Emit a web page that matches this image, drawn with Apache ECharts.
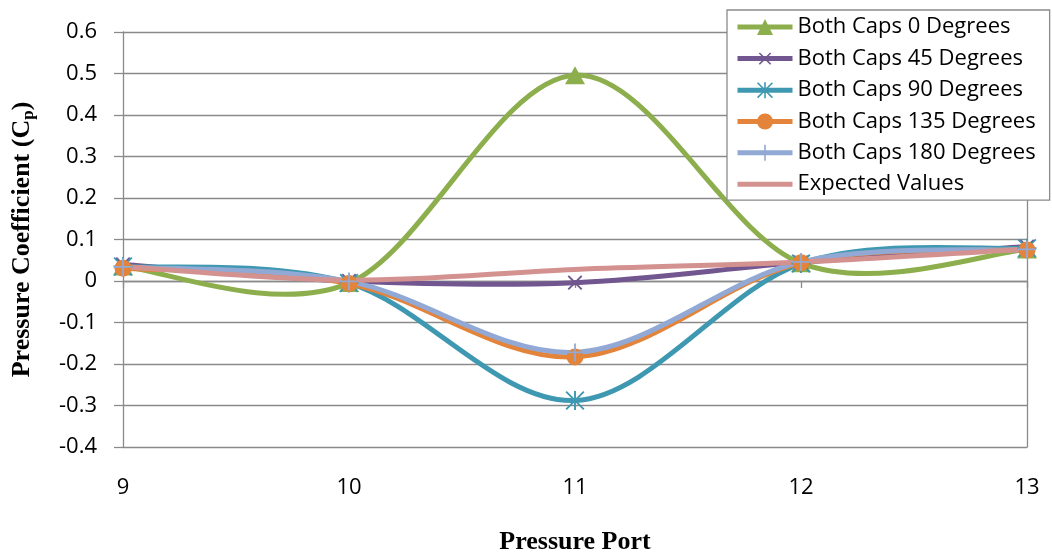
<!DOCTYPE html>
<html>
<head>
<meta charset="utf-8">
<script src="https://cdn.jsdelivr.net/npm/echarts@6/dist/echarts.min.js"></script>
<style>
  html, body { margin: 0; padding: 0; background: #fff; }
  #chart { width: 1052px; height: 553px; }
</style>
</head>
<body>
<div id="chart"></div>
<script>
// ---- data ----
const ports = [9, 10, 11, 12, 13];
const xTicks = [9, 10, 11, 12, 13];
const yTicks = [-0.4, -0.3, -0.2, -0.1, 0, 0.1, 0.2, 0.3, 0.4, 0.5, 0.6];
const seriesNames = ['Both Caps 0 Degrees', 'Both Caps 45 Degrees', 'Both Caps 90 Degrees',
                     'Both Caps 135 Degrees', 'Both Caps 180 Degrees', 'Expected Values'];
const caps0   = [0.035, -0.005, 0.496, 0.043, 0.076];
const caps45  = [0.040, 0.000, -0.004, 0.045, 0.083];
const caps90  = [0.035, -0.005, -0.288, 0.042, 0.079];
const caps135 = [0.031, -0.006, -0.183, 0.044, 0.075];
const caps180 = [0.034, -0.001, -0.172, 0.046, 0.076];
const expected = [0.035, 0.002, 0.028, 0.046, 0.077];

// ---- styling ----
const colors = ['#8DAE4C', '#71568F', '#3E98B1', '#E3843A', '#91A9D4', '#D39290'];
const gridColor = '#8a8a8a';
const tickFont = 'Open Sans';
const titleFont = 'Liberation Serif';
const tension = 1 / 6;

const plusPath = 'path://M9,0H11V9H20V11H11V20H9V11H0V9H9Z';
const starPath = 'path://M9,0H11V9H20V11H11V20H9V11H0V9H9Z' +
  'M1.4,0L20,18.6L18.6,20L0,1.4Z' +
  'M18.6,0L20,1.4L1.4,20L0,18.6Z';

const seriesData = [caps0, caps45, caps90, caps135, caps180, expected];
const symbols = ['triangle', plusPath, starPath, 'circle', plusPath, 'none'];
const symbolSizes = [[20, 18], 19, 19, 17, 18, 0];
const symbolRotates = [0, 45, 0, 0, 0, 0];

// Smooth curve (Catmull-Rom style Bezier, like the spreadsheet's smoothed line)
function curveRenderer(vals, color) {
  return function (params, api) {
    if (params.dataIndex !== 0) return null;
    const pts = ports.map((p, k) => api.coord([p, vals[k]]));
    const n = pts.length;
    const children = [];
    for (let i = 0; i < n - 1; i++) {
      const p0 = pts[Math.max(i - 1, 0)], p1 = pts[i], p2 = pts[i + 1], p3 = pts[Math.min(i + 2, n - 1)];
      children.push({
        type: 'bezierCurve',
        shape: {
          x1: p1[0], y1: p1[1], x2: p2[0], y2: p2[1],
          cpx1: p1[0] + (p2[0] - p0[0]) * tension, cpy1: p1[1] + (p2[1] - p0[1]) * tension,
          cpx2: p2[0] - (p3[0] - p1[0]) * tension, cpy2: p2[1] - (p3[1] - p1[1]) * tension
        },
        style: { stroke: color, lineWidth: 5, fill: 'none', lineCap: 'round' },
        silent: true
      });
    }
    return { type: 'group', children: children };
  };
}

const series = [];
seriesData.forEach((vals, i) => {
  series.push({
    name: '_curve' + i,
    type: 'custom',
    coordinateSystem: 'cartesian2d',
    xAxisIndex: 0, yAxisIndex: 0,
    data: ports.map((p, k) => [p, vals[k]]),
    renderItem: curveRenderer(vals, colors[i]),
    silent: true,
    animation: false
  });
  series.push({
    name: seriesNames[i],
    type: 'line',
    xAxisIndex: 0, yAxisIndex: 0,
    data: ports.map((p, k) => [p, vals[k]]),
    symbol: symbols[i],
    symbolSize: symbolSizes[i],
    symbolRotate: symbolRotates[i],
    showSymbol: symbols[i] !== 'none',
    color: colors[i],
    lineStyle: { color: colors[i], width: 5, opacity: 0 },
    itemStyle: { color: colors[i], borderWidth: 0 },
    emphasis: { disabled: true },
    silent: true,
    animation: false
  });
});

const legendData = seriesNames.map(n => n === 'Expected Values'
  ? { name: n, itemStyle: { opacity: 0 } }
  : { name: n });

const chart = echarts.init(document.getElementById('chart'), null, { renderer: 'canvas' });
chart.setOption({
  animation: false,
  backgroundColor: '#fff',
  grid: { left: 123, right: 25, top: 32, bottom: 106, containLabel: false, outerBoundsMode: 'none' },
  xAxis: [
    {
      type: 'value', position: 'bottom', min: xTicks[0], max: xTicks[xTicks.length - 1], interval: 1,
      axisLine: { show: true, onZero: true, lineStyle: { color: gridColor, width: 1.3 } },
      axisTick: { show: true, inside: false, length: 7, lineStyle: { color: gridColor, width: 1.3 } },
      axisLabel: { show: false },
      splitLine: { show: false }
    },
    {
      type: 'value', position: 'bottom', min: xTicks[0], max: xTicks[xTicks.length - 1], interval: 1,
      axisLine: { show: false, onZero: false },
      axisTick: { show: false },
      axisLabel: { show: true, margin: 30, fontFamily: tickFont, fontSize: 22, color: '#000' },
      splitLine: { show: false },
      name: 'Pressure Port', nameLocation: 'middle', nameGap: 82,
      nameTextStyle: { fontFamily: titleFont, fontWeight: 'bold', fontSize: 26, color: '#000' }
    }
  ],
  yAxis: [
    {
      type: 'value', position: 'left', min: yTicks[0], max: yTicks[yTicks.length - 1], interval: 0.1,
      axisLine: { show: true, onZero: false, lineStyle: { color: gridColor, width: 1.3 } },
      axisTick: { show: true, inside: false, length: 9, lineStyle: { color: gridColor, width: 1.3 } },
      axisLabel: { show: true, margin: 26, fontFamily: tickFont, fontSize: 22, color: '#000',
        formatter: v => String(Math.round(v * 10) / 10) },
      splitLine: { show: true, lineStyle: { color: gridColor, width: 1.3 } },
      name: '{a|Pressure Coefficient (C}{b|p}{a|)}', nameLocation: 'middle', nameGap: 86, nameRotate: 90,
      nameTextStyle: {
        fontFamily: titleFont, fontWeight: 'bold', fontSize: 26, color: '#000',
        rich: {
          a: { fontFamily: titleFont, fontWeight: 'bold', fontSize: 26, color: '#000' },
          b: { fontFamily: titleFont, fontWeight: 'bold', fontSize: 17, color: '#000', padding: [12, 0, 0, 0] }
        }
      }
    },
    {
      type: 'value', position: 'right', min: yTicks[0], max: yTicks[yTicks.length - 1], interval: 0.1,
      axisLine: { show: true, onZero: false, lineStyle: { color: gridColor, width: 1.3 } },
      axisTick: { show: false }, axisLabel: { show: false }, splitLine: { show: false }
    }
  ],
  legend: {
    orient: 'vertical', left: 727, top: 10,
    padding: [6, 14, 5, 8],
    itemWidth: 55, itemHeight: 20, itemGap: 9.3,
    backgroundColor: '#fff', borderColor: gridColor, borderWidth: 1.3, borderRadius: 0,
    textStyle: { fontFamily: tickFont, fontSize: 22, color: '#000' },
    lineStyle: { width: 5, opacity: 1 },
    data: legendData
  },
  series: series
});
</script>
</body>
</html>
